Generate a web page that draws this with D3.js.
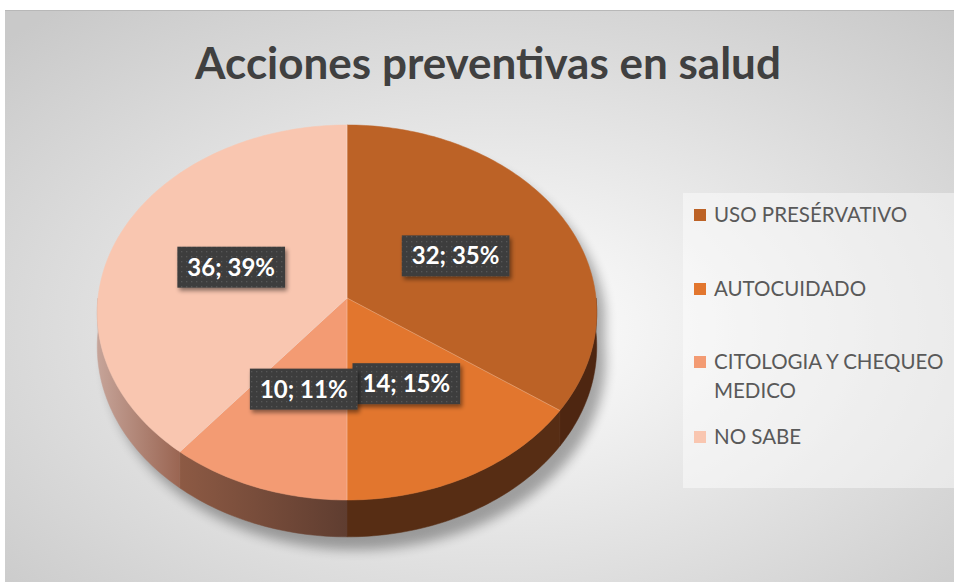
<!DOCTYPE html>
<html>
<head>
<meta charset="utf-8">
<script src="https://cdn.jsdelivr.net/npm/d3@7"></script>
<style>
  body { margin: 0; background: #fff; }
  svg { display: block; }
</style>
</head>
<body>
<div id="container"><svg></svg></div>
<script>
let width = 956;
let height = 582;

// datos
const categories = ["USO PRESÉRVATIVO", "AUTOCUIDADO", "CITOLOGIA Y CHEQUEO MEDICO", "NO SABE"];
const values = [32, 14, 10, 36];
const colors = ["#BC6226", "#E2762E", "#F39B73", "#F9C6B0"];
// color del lado (derecha -> izquierda)
const sideColors = [["#4e2611", "#4e2611"], ["#572d14", "#572d14"], ["#5f3d30", "#8d5a44"], ["#9a6552", "#c6a499"]];
const title = "Acciones preventivas en salud";

// proyeccion del pastel 3D con perspectiva
const cx = 347, cy = 298, Rx = 249, Ry = 186.4, k = 0.0773, T = 34;
function proj(theta, r, depth) {
    let u = Math.sin(theta) * r;
    let v = -Math.cos(theta) * r;
    let w = 1 - k * v;
    return [cx + Rx * u / w, cy + (Ry * v + T * depth) / w];
}
function arcPts(a0, a1, depth) {
    let pts = [];
    let n = Math.max(2, Math.ceil(Math.abs(a1 - a0) / 0.02));
    for (let i = 0; i <= n; i++) {
        pts.push(proj(a0 + (a1 - a0) * i / n, 1, depth));
    }
    return pts;
}
const line = d3.line();

function draw_graph() {
    let svg = d3.select('#container').select('svg')
        .attr('width', width)
        .attr('height', height);
    let defs = svg.append("defs");

    let bg = defs.append("radialGradient").attr("id", "bg")
        .attr("cx", "52%").attr("cy", "55%").attr("r", "72%");
    bg.append("stop").attr("offset", "0%").attr("stop-color", "#ffffff");
    bg.append("stop").attr("offset", "100%").attr("stop-color", "#c9c9c9");

    let blur = defs.append("filter").attr("id", "blur")
        .attr("x", "-20%").attr("y", "-20%").attr("width", "140%").attr("height", "140%");
    blur.append("feGaussianBlur").attr("stdDeviation", 6);

    let lblShadow = defs.append("filter").attr("id", "lblShadow")
        .attr("x", "-20%").attr("y", "-20%").attr("width", "150%").attr("height", "160%");
    lblShadow.append("feDropShadow").attr("dx", 2).attr("dy", 3).attr("stdDeviation", 2)
        .attr("flood-color", "#000").attr("flood-opacity", 0.45);

    let pat = defs.append("pattern").attr("id", "dots")
        .attr("width", 5).attr("height", 5).attr("patternUnits", "userSpaceOnUse");
    pat.append("rect").attr("width", 5).attr("height", 5).attr("fill", "#3d3d3d");
    pat.append("rect").attr("x", 1).attr("y", 1).attr("width", 1.3).attr("height", 1.3).attr("fill", "#575757");

    // fondo
    svg.append("rect")
        .attr("x", 5).attr("y", 10).attr("width", 949).attr("height", 580)
        .attr("fill", "url(#bg)");
    svg.append("line")
        .attr("x1", 5).attr("x2", 954).attr("y1", 10.5).attr("y2", 10.5)
        .attr("stroke", "#b8b8b8");

    // titulo
    svg.append("text")
        .attr("x", 488).attr("y", 79)
        .attr("text-anchor", "middle")
        .attr("font-family", "Lato, 'Open Sans', sans-serif")
        .attr("font-weight", "bold")
        .attr("font-size", 44)
        .attr("fill", "#404040")
        .text(title);

    let pie = d3.pie().sort(null).value(d => d);
    let arcs = pie(values);
    let total = d3.sum(values);
    let pct = d3.format(".0%");

    // sombra del pastel
    let outline = arcPts(0, Math.PI / 2, 0)
        .concat(arcPts(Math.PI / 2, 3 * Math.PI / 2, 1))
        .concat(arcPts(3 * Math.PI / 2, 2 * Math.PI, 0));
    svg.append("path")
        .attr("d", line(outline) + "Z")
        .attr("transform", "translate(9,13)")
        .attr("fill", "#000")
        .attr("opacity", 0.32)
        .attr("filter", "url(#blur)");

    // lados
    let sides = svg.append("g");
    arcs.forEach((a, i) => {
        let a0 = Math.max(a.startAngle, Math.PI / 2);
        let a1 = Math.min(a.endAngle, 3 * Math.PI / 2);
        if (a1 <= a0) return;
        let top = arcPts(a0, a1, 0);
        let bot = arcPts(a1, a0, 1);
        let xs = top.map(p => p[0]);
        let gid = "side" + i;
        let g = defs.append("linearGradient").attr("id", gid)
            .attr("gradientUnits", "userSpaceOnUse")
            .attr("x1", d3.max(xs)).attr("x2", d3.min(xs)).attr("y1", 0).attr("y2", 0);
        g.append("stop").attr("offset", "0%").attr("stop-color", sideColors[i][0]);
        g.append("stop").attr("offset", "100%").attr("stop-color", sideColors[i][1]);
        sides.append("path")
            .attr("d", line(top.concat(bot)) + "Z")
            .attr("fill", "url(#" + gid + ")")
            .attr("stroke", "url(#" + gid + ")")
            .attr("stroke-width", 0.5);
    });

    // cara superior
    let tops = svg.append("g");
    arcs.forEach((a, i) => {
        let pts = [proj(0, 0, 0)].concat(arcPts(a.startAngle, a.endAngle, 0));
        tops.append("path")
            .attr("d", line(pts) + "Z")
            .attr("fill", colors[i])
            .attr("stroke", colors[i])
            .attr("stroke-width", 0.5);
    });
    // lineas finas entre porciones
    arcs.forEach((a, i) => {
        let p0 = proj(0, 0, 0), p1 = proj(a.startAngle, 1, 0);
        tops.append("line")
            .attr("x1", p0[0]).attr("y1", p0[1]).attr("x2", p1[0]).attr("y2", p1[1])
            .attr("stroke", "#ffffff").attr("stroke-opacity", 0.25).attr("stroke-width", 1);
    });

    // etiquetas de datos
    let order = [3, 0, 1, 2];
    let labels = svg.append("g");
    order.forEach(i => {
        let a = arcs[i];
        let mid = (a.startAngle + a.endAngle) / 2;
        let c = proj(mid, 0.5, 0);
        let g = labels.append("g");
        let rect = g.append("rect");
        let t = g.append("text")
            .attr("x", c[0]).attr("y", c[1] + 8.5)
            .attr("text-anchor", "middle")
            .attr("font-family", "Lato, 'Open Sans', sans-serif")
            .attr("font-weight", "bold")
            .attr("font-size", 24)
            .attr("fill", "#ffffff")
            .text(values[i] + "; " + pct(values[i] / total));
        let tw = t.node().getComputedTextLength();
        let bw = tw + 20, bh = 41;
        rect.attr("x", c[0] - bw / 2).attr("y", c[1] - bh / 2)
            .attr("width", bw).attr("height", bh)
            .attr("fill", "url(#dots)")
            .attr("filter", "url(#lblShadow)");
    });

    // leyenda
    let lx = 683, ly = 193, lw = 271, lh = 295;
    svg.append("rect")
        .attr("x", lx).attr("y", ly).attr("width", lw).attr("height", lh)
        .attr("fill", "#ffffff").attr("fill-opacity", 0.45);
    let ys = [215, 289, 362, 437];
    let legend = svg.append("g");
    categories.forEach((c, i) => {
        let y = ys[i];
        legend.append("rect")
            .attr("x", 694).attr("y", y - 6).attr("width", 12).attr("height", 12)
            .attr("fill", colors[i]);
        let t = legend.append("text")
            .attr("x", 714).attr("y", y + 7)
            .attr("font-family", "Lato, 'Open Sans', sans-serif")
            .attr("font-size", 20.5)
            .attr("fill", "#595959");
        // partir el texto si es muy largo
        let words = c.split(" ");
        let cur = [];
        let ts = t.append("tspan").attr("x", 714);
        words.forEach(wd => {
            cur.push(wd);
            ts.text(cur.join(" "));
            if (ts.node().getComputedTextLength() > 236 && cur.length > 1) {
                cur.pop();
                ts.text(cur.join(" "));
                cur = [wd];
                ts = t.append("tspan").attr("x", 714).attr("dy", 29).text(wd);
            }
        });
    });
}

draw_graph();
</script>
</body>
</html>
